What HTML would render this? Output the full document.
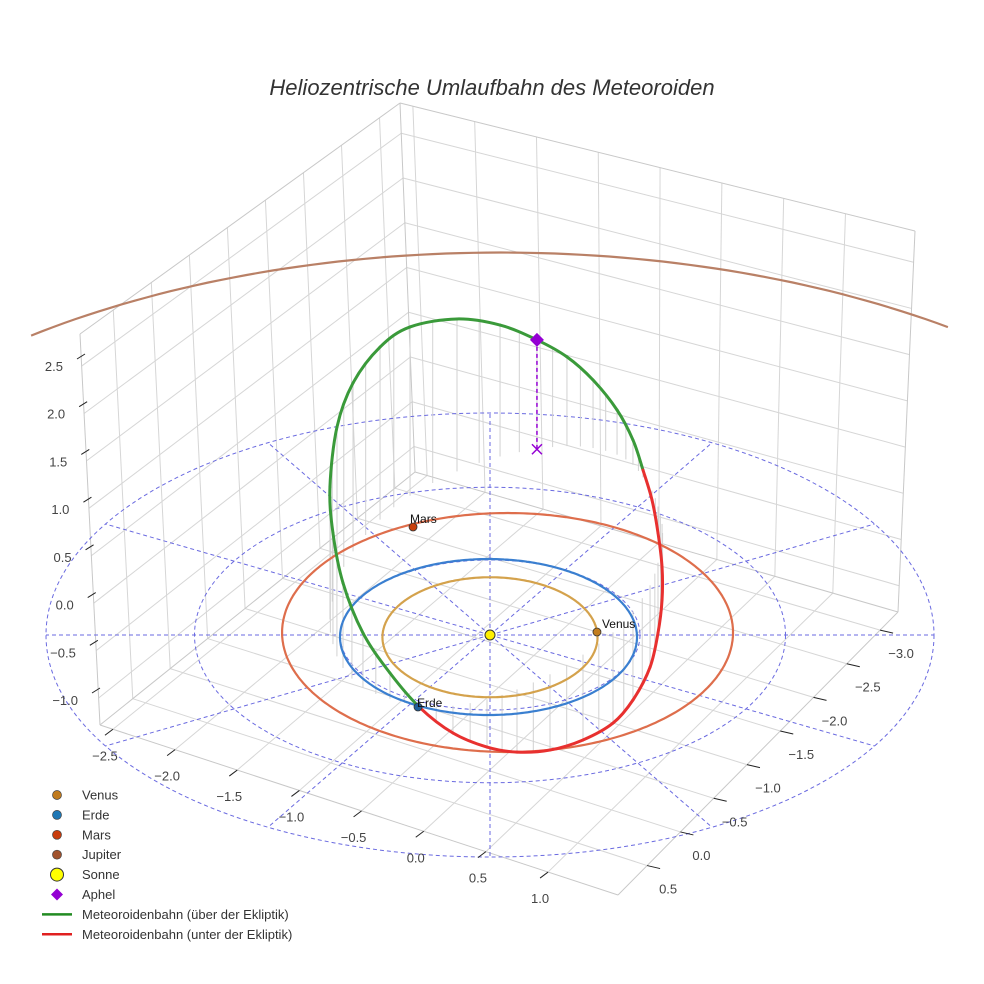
<!DOCTYPE html>
<html><head><meta charset="utf-8"><style>
html,body{margin:0;padding:0;background:#fff;overflow:hidden;width:984px;height:984px;}
svg{display:block;font-family:"Liberation Sans",sans-serif;overflow:hidden;}
</style></head><body>
<svg id="chart" width="984" height="984" viewBox="0 0 984 984" xmlns="http://www.w3.org/2000/svg">
<rect x="0" y="0" width="984" height="984" fill="#fff"/>
<text x="492" y="95" text-anchor="middle" font-size="22" font-style="italic" fill="#333">Heliozentrische Umlaufbahn des Meteoroiden</text>
<g id="grid"></g>
<g id="polar"></g>
<g id="stems"></g>
<g id="orbits"></g>
<g id="meteor"></g>
<g id="markers"></g>
<g id="ticks"></g>
<g id="legend"></g>
</svg>
<script>
// ---- data ----
const zTickLabels = ["−1.0","−0.5","0.0","0.5","1.0","1.5","2.0","2.5"];
const zTickValues = [-1.0,-0.5,0.0,0.5,1.0,1.5,2.0,2.5];
const leftAxisLabels = ["−2.5","−2.0","−1.5","−1.0","−0.5","0.0","0.5","1.0"];
const leftAxisValues = [-2.5,-2.0,-1.5,-1.0,-0.5,0.0,0.5,1.0];
const rightAxisLabels = ["−3.0","−2.5","−2.0","−1.5","−1.0","−0.5","0.0","0.5"];
const rightAxisValues = [-3.0,-2.5,-2.0,-1.5,-1.0,-0.5,0.0,0.5];

const polarRadii = [1.0, 1.97, 2.96];
const polarAnglesDeg = [0,30,60,90,120,150,180,210,240,270,300,330];

const orbitNames = ["Venus","Erde","Mars","Jupiter"];
const orbitA = [0.717, 0.99, 1.503, 5.2];
const orbitB = [0.80, 1.04, 1.593, 5.5];
const orbitCx = [0.0, -0.01, 0.117, 0.07];
const orbitCy = [-0.03, -0.027, 0.033, -0.4];
const orbitColors = ["#d4a24c","#3a7fd0","#de6e4c","#b98066"];

const planetNames = ["Venus","Erde","Mars"];
const planetX = [0.713, -0.48, -0.513];
const planetY = [0.04, -0.96, 1.44];
const planetColors = ["#c27d1e","#1f5f9a","#c8400c"];

const meteorX = [-0.22,0.067,0.313,0.513,0.687,0.847,0.953,1.02,1.08,1.12,1.147,1.147,1.12,1.067,0.953,0.82,0.62,0.4,0.18,-0.02,-0.247,-0.467,-0.667,-0.847,-0.98,-1.047,-1.067,-1.02,-0.913,-0.733,-0.533];
const meteorY = [2.182,2.380,2.477,2.519,2.493,2.404,2.269,2.101,1.927,1.714,1.481,1.234,0.964,0.663,0.320,0.035,-0.262,-0.523,-0.725,-0.857,-0.944,-0.942,-0.849,-0.702,-0.440,-0.122,0.206,0.695,1.115,1.538,1.857];
const meteorZ = [1.524,1.314,1.093,0.892,0.680,0.447,0.249,0.074,-0.095,-0.265,-0.432,-0.575,-0.703,-0.819,-0.890,-0.907,-0.853,-0.758,-0.627,-0.478,-0.272,-0.02,0.257,0.547,0.851,1.112,1.327,1.559,1.684,1.726,1.688];

const aphel = [0.313, 2.477, 1.093];

// ---- projection / axis functions ----
const SUN = [490,635], SX = 150, SY = 75, SZ = 100;
function proj(x,y,z){ return [SUN[0]+SX*x, SUN[1]-SY*y-SZ*z]; }
const B=[415,472], L=[100,725], R=[898,612], F=[618,895];
const Bt=[400,103], Lt=[80,334], Rt=[915,231];
function floorPt(u,v){
  return [(1-u)*(1-v)*B[0]+u*(1-v)*L[0]+(1-u)*v*R[0]+u*v*F[0],
          (1-u)*(1-v)*B[1]+u*(1-v)*L[1]+(1-u)*v*R[1]+u*v*F[1]];
}
function lerp(a,b,t){return [a[0]+(b[0]-a[0])*t,a[1]+(b[1]-a[1])*t];}
function vOf(val){ return 0.025 + (val-(-2.5))/3.5*0.84; }
function uOf(val){ return 0.064 + (val-(-3.0))/3.5*0.832; }
function wOf(z){ return 0.069 + (z-(-1.0))/3.5*0.849; }

const NS="http://www.w3.org/2000/svg";
function mk(tag, parent, attrs){
  const e=document.createElementNS(NS,tag);
  for(const k in attrs) e.setAttribute(k,attrs[k]);
  parent.appendChild(e); return e;
}
function line(parent,p,q,stroke,w,extra){
  return mk('line',parent,Object.assign({x1:p[0],y1:p[1],x2:q[0],y2:q[1],stroke:stroke,'stroke-width':w},extra||{}));
}

// ---- grid box ----
const grid=document.getElementById('grid');
const gc="#d6d6d6";
leftAxisValues.forEach(val=>{
  const v=vOf(val);
  const e=line(grid,floorPt(0,v),floorPt(1,v),gc,1);
  
  
});
rightAxisValues.forEach(val=>{
  const u=uOf(val);
  const e=line(grid,floorPt(u,0),floorPt(u,1),gc,1);
  
  
});
rightAxisValues.forEach(val=>{
  const u=uOf(val);
  const e=line(grid,floorPt(u,0),lerp(Bt,Lt,u),gc,1);
  
  
});
leftAxisValues.forEach(val=>{
  const v=vOf(val);
  const e=line(grid,floorPt(0,v),lerp(Bt,Rt,v),gc,1);
  
  
});
zTickValues.forEach(z=>{
  const w=wOf(z);
  const pb=lerp(B,Bt,w), pl=lerp(L,Lt,w), pr=lerp(R,Rt,w);
  const e1=line(grid,pl,pb,gc,1);
  
  
  const e2=line(grid,pb,pr,gc,1);
  
  
});
[[L,Lt],[B,Bt],[R,Rt],[Lt,Bt],[Bt,Rt],[L,B],[B,R],[L,F],[R,F]].forEach(pq=>{
  const e=line(grid,pq[0],pq[1],"#c8c8c8",1);
  
  
});

// ---- polar grid ----
const polar=document.getElementById('polar');
const pc="#6a6ae0";
polarRadii.forEach(r=>{
  const e=mk('ellipse',polar,{cx:SUN[0],cy:SUN[1],rx:SX*r,ry:SY*r,fill:'none',stroke:pc,'stroke-width':1,'stroke-dasharray':'4,3'});
  
  
});
const rMax=polarRadii[polarRadii.length-1];
polarAnglesDeg.forEach(a=>{
  const t=a*Math.PI/180;
  const e=line(polar,SUN,proj(rMax*Math.cos(t),rMax*Math.sin(t),0),pc,1,{'stroke-dasharray':'4,3'});
  
  
});

// ---- planet orbits (sampled, cropped to scene) ----
const orbits=document.getElementById('orbits');
orbitNames.forEach((n,i)=>{
  let d="", pen=false;
  for(let k=0;k<=360;k++){
    const t=k*Math.PI/180;
    const p=proj(orbitCx[i]+orbitA[i]*Math.cos(t), orbitCy[i]+orbitB[i]*Math.sin(t), 0);
    const inside = p[0]>=30 && p[0]<=955 && p[1]>=0 && p[1]<=984;
    if(inside){ d += (pen?"L":"M")+p[0].toFixed(1)+","+p[1].toFixed(1); pen=true; }
    else pen=false;
  }
  const e=mk('path',orbits,{d:d,fill:'none',stroke:orbitColors[i],'stroke-width':2.2});
  
  
});

// ---- meteoroid orbit ----
const meteor=document.getElementById('meteor');
const stems=document.getElementById('stems');
const N=meteorX.length;
const P3=[]; for(let i=0;i<N;i++) P3.push([meteorX[i],meteorY[i],meteorZ[i]]);
function at(i){return P3[(i+N)%N];}
function bez(p0,p1,p2,p3,t){const m=1-t;return p0.map((_,k)=>m*m*m*p0[k]+3*m*m*t*p1[k]+3*m*t*t*p2[k]+t*t*t*p3[k]);}
for(let i=0;i<N;i++){
  const a=at(i-1),b=at(i),c=at(i+1),d=at(i+2);
  const c1=b.map((v,k)=>v+(c[k]-a[k])/6), c2=c.map((v,k)=>v-(d[k]-b[k])/6);
  const s0=proj(...b),s1=proj(...c1),s2=proj(...c2),s3=proj(...c);
  const mid=bez(b,c1,c2,c,0.5);
  const col = mid[2]>=0 ? "#3a9a3a" : "#e8302f";
  const e=mk('path',meteor,{d:`M${s0[0]},${s0[1]} C${s1[0]},${s1[1]} ${s2[0]},${s2[1]} ${s3[0]},${s3[1]}`,fill:'none',stroke:col,'stroke-width':3,'stroke-linecap':'round'});
  
  
  [0,0.5].forEach(t=>{
    const p=t===0?b:bez(b,c1,c2,c,t);
    const e2=line(stems,proj(p[0],p[1],p[2]),proj(p[0],p[1],0),"#d2d2d2",1);
    
    
  });
}

// ---- markers ----
const markers=document.getElementById('markers');
const apP=proj(...aphel), apF=proj(aphel[0],aphel[1],0);
const adl=line(markers,apP,apF,"#9400d3",1.5,{'stroke-dasharray':'4,3'});


const ax=mk('path',markers,{d:`M${apF[0]-5},${apF[1]-5}L${apF[0]+5},${apF[1]+5}M${apF[0]-5},${apF[1]+5}L${apF[0]+5},${apF[1]-5}`,stroke:"#9400d3",'stroke-width':1.5});


const ad=mk('path',markers,{d:`M${apP[0]},${apP[1]-7}L${apP[0]+7},${apP[1]}L${apP[0]},${apP[1]+7}L${apP[0]-7},${apP[1]}Z`,fill:"#9400d3"});


planetNames.forEach((n,i)=>{
  const p=proj(planetX[i],planetY[i],0);
  const c=mk('circle',markers,{cx:p[0],cy:p[1],r:4,fill:planetColors[i],stroke:'#333','stroke-width':0.8});
  
  
  const t=mk('text',markers,{x:p[0]-3+(n==="Venus"?8:0)+(n==="Erde"?2:0),y:p[1]-4+(n==="Erde"?4:0),'font-size':12,fill:'#111'});
  t.textContent=n;
  
  
});
const sun=mk('circle',markers,{cx:SUN[0],cy:SUN[1],r:5,fill:'#ffef00',stroke:'#333','stroke-width':1});



// ---- ticks ----
const ticks=document.getElementById('ticks');
const tc="#444";
function axisPt(a,b,vals,val){const t=(val-vals[0])/(vals[vals.length-1]-vals[0]);return lerp(a,b,t);}
zTickValues.forEach((z,i)=>{
  const p=axisPt([85,354],[100,688],zTickValues.slice().reverse(),z);
  const e=line(ticks,p,[p[0]-8,p[1]+5],"#222",1);
  
  
  const t=mk('text',ticks,{x:p[0]-22,y:p[1]+17,'text-anchor':'end','font-size':13,fill:tc});
  t.textContent=zTickLabels[i];
  
  
});
leftAxisValues.forEach((val,i)=>{
  const p=floorPt(1,vOf(val));
  const e=line(ticks,p,[p[0]-8,p[1]+6],"#222",1);
  
  
  const t=mk('text',ticks,{x:p[0]-8,y:p[1]+31,'text-anchor':'middle','font-size':13,fill:tc});
  t.textContent=leftAxisLabels[i];
  
  
});
rightAxisValues.forEach((val,i)=>{
  const p=floorPt(uOf(val),1);
  const e=line(ticks,p,[p[0]+13,p[1]+3],"#222",1);
  
  
  const t=mk('text',ticks,{x:p[0]+21,y:p[1]+28,'text-anchor':'middle','font-size':13,fill:tc});
  t.textContent=rightAxisLabels[i];
  
  
});

// ---- legend ----
const legend=document.getElementById('legend');
const legNames=["Venus","Erde","Mars","Jupiter","Sonne","Aphel","Meteoroidenbahn (über der Ekliptik)","Meteoroidenbahn (unter der Ekliptik)"];
const legColors=["#c07a1e","#1f77b4","#c83c0c","#a0522d","#ffff00","#9400d3","#228b22","#e02020"];
const legKinds=["dot","dot","dot","dot","sun","diamond","line","line"];
legNames.forEach((n,i)=>{
  const y=795+i*19.9;
  const g=mk('g',legend,{});
  
  
  if(legKinds[i]==="dot") mk('circle',g,{cx:57,cy:y,r:4.5,fill:legColors[i],stroke:'#444','stroke-width':0.7});
  else if(legKinds[i]==="sun") mk('circle',g,{cx:57,cy:y,r:6.5,fill:legColors[i],stroke:'#333','stroke-width':1});
  else if(legKinds[i]==="diamond") mk('path',g,{d:`M57,${y-6}L63,${y}L57,${y+6}L51,${y}Z`,fill:legColors[i]});
  else mk('line',g,{x1:42,y1:y,x2:72,y2:y,stroke:legColors[i],'stroke-width':2.5});
  const t=mk('text',g,{x:82,y:y+4.5,'font-size':13,fill:'#333'});
  t.textContent=n;
});
</script>
</body></html>
